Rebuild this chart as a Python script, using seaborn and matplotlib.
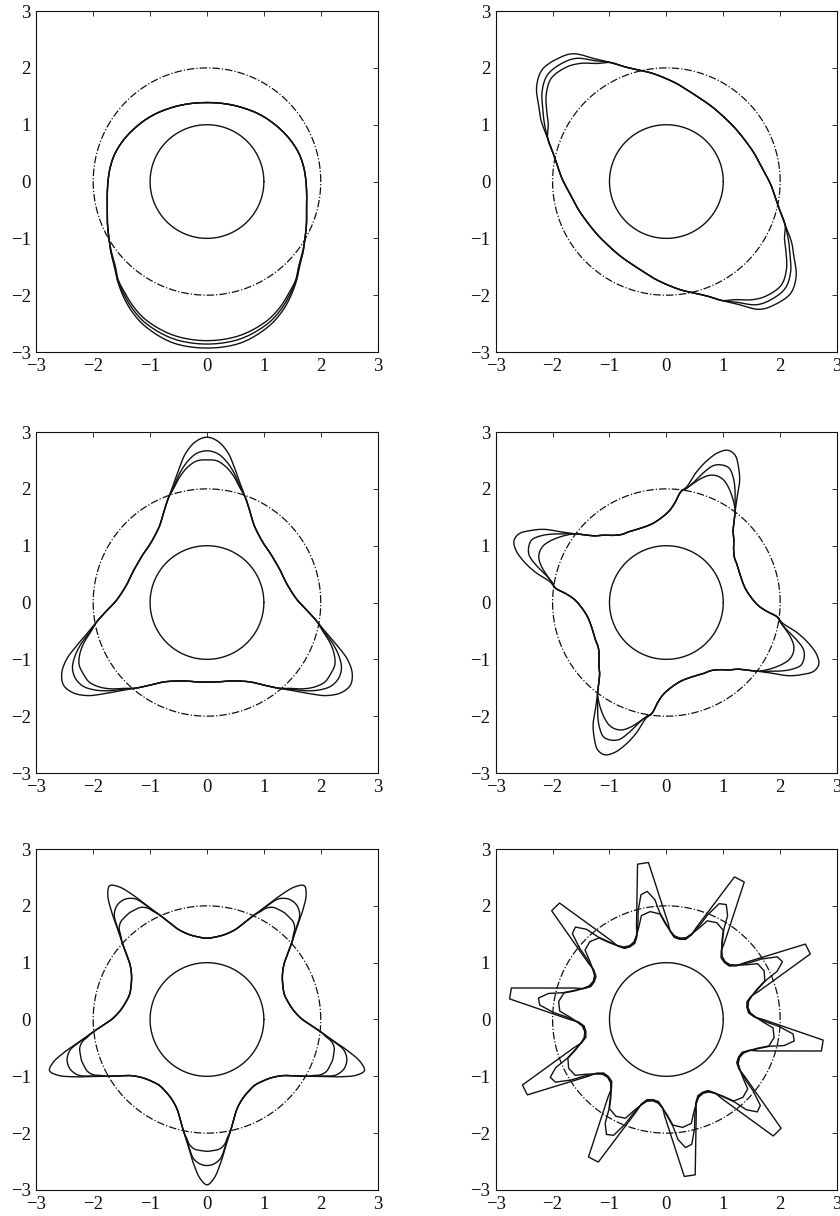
import numpy as np
import pandas as pd
import matplotlib
matplotlib.use("Agg")
import matplotlib.pyplot as plt
import seaborn as sns

# ---------------------------------------------------------------------------
# Star-shaped outlines in polar form: each panel has n identical lobes.
# Profiles give (angle from the lobe axis in degrees, radius).
# Mirrored profiles cover half a lobe period, the others a full period.
# ---------------------------------------------------------------------------
lobe_counts = [1, 2, 3, 4, 5, 10]
lobe_dirs = [-90.0, 138.0, 90.0, 68.0, -90.0, 98.5]
mirrored = [True, False, True, False, True, False]
smoothed = [True, True, True, True, True, False]

circle_radii = [1.0, 2.0]
tick_values = [-3, -2, -1, 0, 1, 2, 3]

# panel 1: one lobe pointing down
p1_phi = [0, 12, 23, 30, 36, 42, 47, 54, 60, 67, 74, 82, 90, 98, 107, 118, 130, 142, 155, 167, 180]
p1_outer = [2.93, 2.90, 2.77, 2.64, 2.50, 2.35, 2.22, 2.09, 1.99, 1.90, 1.82, 1.77, 1.74, 1.72, 1.69, 1.63, 1.56, 1.50, 1.44, 1.405, 1.39]
p1_mid = [2.86, 2.83, 2.72, 2.60, 2.47, 2.34, 2.21, 2.09, 1.99, 1.90, 1.82, 1.77, 1.74, 1.72, 1.69, 1.63, 1.56, 1.50, 1.44, 1.405, 1.39]
p1_inner = [2.80, 2.77, 2.67, 2.56, 2.44, 2.33, 2.20, 2.08, 1.99, 1.90, 1.82, 1.77, 1.74, 1.72, 1.69, 1.63, 1.56, 1.50, 1.44, 1.405, 1.39]

# panel 2: two lobes along the diagonal
p2_phi = [-90, -80, -70, -62, -56, -48, -40, -33, -28, -23, -18, -12, -7, 0, 6, 11.5, 16, 22, 28, 40, 50, 60, 70, 80]
p2_outer = [1.52, 1.54, 1.58, 1.64, 1.71, 1.81, 1.93, 2.04, 2.15, 2.31,
            2.49, 2.78, 2.88, 2.94, 2.82, 2.60, 2.45,
            2.22, 2.05, 1.84, 1.70, 1.62, 1.56, 1.53]
p2_mid = [1.52, 1.54, 1.58, 1.64, 1.71, 1.81, 1.93, 2.04, 2.15, 2.31,
          2.45, 2.68, 2.77, 2.81, 2.70, 2.52, 2.39,
          2.22, 2.05, 1.84, 1.70, 1.62, 1.56, 1.53]
p2_inner = [1.52, 1.54, 1.58, 1.64, 1.71, 1.81, 1.93, 2.04, 2.15, 2.31,
            2.40, 2.57, 2.67, 2.72, 2.61, 2.44, 2.31,
            2.22, 2.05, 1.84, 1.70, 1.62, 1.56, 1.53]

# panel 3: three lobes
p3_phi = [0, 4, 8, 12, 16, 20, 25, 31, 38, 45, 52, 60]
p3_outer = [2.91, 2.84, 2.66, 2.39, 2.15, 1.97, 1.78, 1.60, 1.49, 1.43, 1.41, 1.40]
p3_mid = [2.67, 2.63, 2.50, 2.32, 2.12, 1.97, 1.78, 1.60, 1.49, 1.43, 1.41, 1.40]
p3_inner = [2.51, 2.50, 2.41, 2.27, 2.10, 1.97, 1.78, 1.60, 1.49, 1.43, 1.41, 1.40]

# panel 4: four skewed lobes
p4_phi = [-45, -40, -35, -30, -25, -21, -18, -15, -12, -9, -6, -3, 0, 3, 6, 9, 12, 14.5, 17, 20, 25, 32, 38]
p4_outer = [1.39, 1.41, 1.43, 1.50, 1.62, 1.72, 1.85, 2.01,
            2.22, 2.50, 2.70, 2.86, 2.89, 2.79, 2.60, 2.36, 2.07,
            1.97, 1.77, 1.62, 1.50, 1.41, 1.385]
p4_mid = [1.39, 1.41, 1.43, 1.50, 1.62, 1.72, 1.85, 2.01,
          2.16, 2.34, 2.50, 2.61, 2.61, 2.55, 2.38, 2.18, 2.04,
          1.97, 1.77, 1.62, 1.50, 1.41, 1.385]
p4_inner = [1.39, 1.41, 1.43, 1.50, 1.62, 1.72, 1.85, 2.01,
            2.12, 2.22, 2.31, 2.38, 2.40, 2.37, 2.28, 2.16, 2.04,
            1.97, 1.77, 1.62, 1.50, 1.41, 1.385]

# panel 5: five lobes
p5_phi = [0, 2.5, 5.5, 8, 10, 11.5, 15, 18.5, 24, 30, 36]
p5_outer = [2.91, 2.80, 2.53, 2.29, 2.13, 2.03, 1.82, 1.66, 1.53, 1.46, 1.43]
p5_mid = [2.57, 2.55, 2.46, 2.27, 2.12, 2.03, 1.82, 1.66, 1.53, 1.46, 1.43]
p5_inner = [2.32, 2.31, 2.29, 2.22, 2.10, 2.03, 1.82, 1.66, 1.53, 1.46, 1.43]

# panel 6: ten teeth
p6_phi_outer = [-18, -14, -11, -9.5, -2, 2, 9.5, 11, 14]
p6_outer = [1.43, 1.45, 1.55, 1.70, 2.78, 2.78, 1.70, 1.55, 1.45]
p6_phi_mid = [-18, -14, -11, -8, -5, -3, 0, 3, 6, 8, 11, 14]
p6_mid = [1.44, 1.47, 1.56, 1.70, 1.88, 2.12, 2.28, 2.24, 1.98, 1.76, 1.57, 1.47]
p6_phi_inner = [-18, -14, -11, -8, -5, 0, 5, 8, 11, 14]
p6_inner = [1.45, 1.48, 1.56, 1.68, 1.86, 1.92, 1.88, 1.70, 1.57, 1.48]

panel_profiles = [
    [(p1_phi, p1_outer), (p1_phi, p1_mid), (p1_phi, p1_inner)],
    [(p2_phi, p2_outer), (p2_phi, p2_mid), (p2_phi, p2_inner)],
    [(p3_phi, p3_outer), (p3_phi, p3_mid), (p3_phi, p3_inner)],
    [(p4_phi, p4_outer), (p4_phi, p4_mid), (p4_phi, p4_inner)],
    [(p5_phi, p5_outer), (p5_phi, p5_mid), (p5_phi, p5_inner)],
    [(p6_phi_outer, p6_outer), (p6_phi_mid, p6_mid), (p6_phi_inner, p6_inner)],
]
curve_names = ["outer", "middle", "inner"]


def closed_outline(phi, r, n, direction, mirror):
    """Vertices of the outline, lobe profile repeated n times around."""
    phi = np.asarray(phi, float)
    r = np.asarray(r, float)
    if mirror:
        phi = np.concatenate([-phi[:0:-1], phi[:-1]])
        r = np.concatenate([r[:0:-1], r[:-1]])
    period = 360.0 / n
    ang = np.concatenate([phi + direction + k * period for k in range(n)])
    rad = np.tile(r, n)
    t = np.deg2rad(ang)
    return np.column_stack([rad * np.cos(t), rad * np.sin(t)])


def smooth_closed(pts, per_seg=12, alpha=0.5):
    """Centripetal Catmull-Rom path through the vertices of a closed outline."""
    n = len(pts)
    out = []
    for i in range(n):
        p0, p1, p2, p3 = pts[(i - 1) % n], pts[i], pts[(i + 1) % n], pts[(i + 2) % n]
        t0 = 0.0
        t1 = t0 + np.linalg.norm(p1 - p0) ** alpha
        t2 = t1 + np.linalg.norm(p2 - p1) ** alpha
        t3 = t2 + np.linalg.norm(p3 - p2) ** alpha
        t = np.linspace(t1, t2, per_seg, endpoint=False)[:, None]
        a1 = (t1 - t) / (t1 - t0) * p0 + (t - t0) / (t1 - t0) * p1
        a2 = (t2 - t) / (t2 - t1) * p1 + (t - t1) / (t2 - t1) * p2
        a3 = (t3 - t) / (t3 - t2) * p2 + (t - t2) / (t3 - t2) * p3
        b1 = (t2 - t) / (t2 - t0) * a1 + (t - t0) / (t2 - t0) * a2
        b2 = (t3 - t) / (t3 - t1) * a2 + (t - t1) / (t3 - t1) * a3
        out.append((t2 - t) / (t2 - t1) * b1 + (t - t1) / (t2 - t1) * b2)
    return np.vstack(out)


def close_path(pts):
    return np.vstack([pts, pts[:1]])


sns.set_theme(style="white")
plt.rcParams["font.family"] = ["Liberation Serif", "DejaVu Serif"]
plt.rcParams["axes.unicode_minus"] = True

fig = plt.figure(figsize=(8.4, 12.16), dpi=100)
lefts = [0.0432, 0.5901]
bottoms = [0.7105, 0.3643, 0.0214]
width, height = 0.4064, 0.2804

ink = "#111111"
lw = 1.0
theta = np.linspace(0, 2 * np.pi, 721)

for idx in range(6):
    row, col = divmod(idx, 2)
    ax = fig.add_axes([lefts[col], bottoms[row], width, height])

    frames = []
    for name, (phi, r) in zip(curve_names, panel_profiles[idx]):
        pts = closed_outline(phi, r, lobe_counts[idx], lobe_dirs[idx], mirrored[idx])
        if smoothed[idx]:
            pts = smooth_closed(pts)
        pts = close_path(pts)
        frames.append(pd.DataFrame({"x": pts[:, 0], "y": pts[:, 1], "curve": name}))
    df = pd.concat(frames, ignore_index=True)
    sns.lineplot(data=df, x="x", y="y", units="curve", estimator=None, sort=False,
                 color=ink, lw=lw, ax=ax)

    inner_circle = pd.DataFrame({"x": circle_radii[0] * np.cos(theta),
                                 "y": circle_radii[0] * np.sin(theta)})
    outer_circle = pd.DataFrame({"x": circle_radii[1] * np.cos(theta),
                                 "y": circle_radii[1] * np.sin(theta)})
    sns.lineplot(data=inner_circle, x="x", y="y", sort=False, estimator=None,
                 color=ink, lw=lw, ax=ax)
    sns.lineplot(data=outer_circle, x="x", y="y", sort=False, estimator=None,
                 color=ink, lw=lw * 0.9, linestyle=(0, (6, 1.6, 1.0, 1.6)), ax=ax)

    ax.set_xlim(-3, 3)
    ax.set_ylim(-3, 3)
    ax.set_xticks(tick_values)
    ax.set_yticks(tick_values)
    ax.set_xlabel("")
    ax.set_ylabel("")
    ax.tick_params(direction="in", top=True, right=True, length=3.5, width=0.6,
                   labelsize=13.5, colors="#111111", pad=4.0)
    for side in ax.spines.values():
        side.set_visible(True)
        side.set_linewidth(0.8)
        side.set_color("#111111")
    ax.set_facecolor("white")
    ax.grid(False)

fig.savefig("out.png", dpi=100, facecolor="white")
